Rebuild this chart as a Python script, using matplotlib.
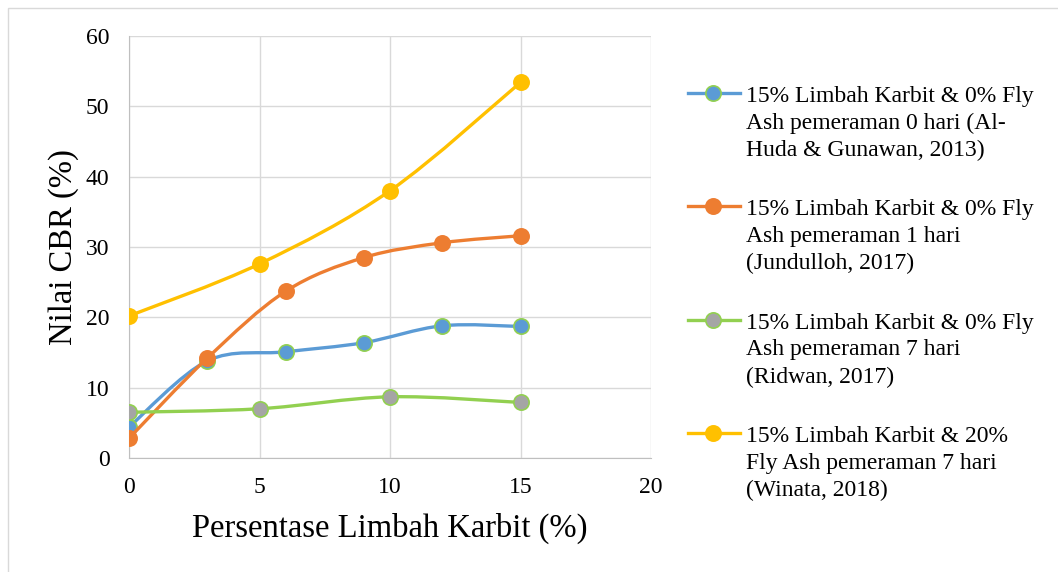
import matplotlib
matplotlib.use("Agg")
import matplotlib.pyplot as plt
from matplotlib.path import Path
from matplotlib.patches import PathPatch, Rectangle
from matplotlib.lines import Line2D
import numpy as np

plt.rcParams['font.family'] = ['Liberation Serif', 'DejaVu Serif']

# data
x_blue = [0, 3, 6, 9, 12, 15]
y_blue = [4.4, 13.8, 15.1, 16.4, 18.8, 18.7]
x_orange = [0, 3, 6, 9, 12, 15]
y_orange = [2.8, 14.2, 23.7, 28.5, 30.6, 31.6]
x_green = [0, 5, 10, 15]
y_green = [6.5, 7.0, 8.7, 7.9]
x_yellow = [0, 5, 10, 15]
y_yellow = [20.2, 27.6, 38.0, 53.4]

labels = [
    "15% Limbah Karbit & 0% Fly\nAsh pemeraman 0 hari (Al-\nHuda & Gunawan, 2013)",
    "15% Limbah Karbit & 0% Fly\nAsh pemeraman 1 hari\n(Jundulloh, 2017)",
    "15% Limbah Karbit & 0% Fly\nAsh pemeraman 7 hari\n(Ridwan, 2017)",
    "15% Limbah Karbit & 20%\nFly Ash pemeraman 7 hari\n(Winata, 2018)",
]

series = [
    (x_blue, y_blue, '#5b9bd5', '#5b9bd5', '#92d050'),
    (x_orange, y_orange, '#ed7d31', '#ed7d31', '#ed7d31'),
    (x_green, y_green, '#92d050', '#a5a5a5', '#92d050'),
    (x_yellow, y_yellow, '#ffc000', '#ffc000', '#ffc000'),
]


def smooth_path(xs, ys):
    # excel style smoothed line: bezier segments through every point
    p = np.column_stack([xs, ys]).astype(float)
    n = len(p)
    verts = [p[0]]
    codes = [Path.MOVETO]
    for i in range(n - 1):
        p0 = p[i - 1] if i > 0 else p[i]
        p3 = p[i + 2] if i + 2 < n else p[i + 1]
        c1 = p[i] + (p[i + 1] - p0) / 6
        c2 = p[i + 1] - (p3 - p[i]) / 6
        verts += [c1, c2, p[i + 1]]
        codes += [Path.CURVE4] * 3
    return Path(verts, codes)


W, H = 1058, 572
fig = plt.figure(figsize=(W / 100, H / 100), dpi=100)
fig.patches.append(Rectangle((8 / W, -0.1), 1.1, 1.1 - 8 / H, transform=fig.transFigure,
                             fill=False, edgecolor='#d9d9d9', linewidth=1))
ax = fig.add_axes([129 / W, 1 - 458 / H, 522 / W, 422 / H])

for k, (xs, ys, lc, mf, me) in enumerate(series):
    ax.add_patch(PathPatch(smooth_path(xs, ys), fill=False, edgecolor=lc,
                           linewidth=2.4, zorder=3 + k, capstyle='round'))
    ax.plot(xs, ys, linestyle='none', marker='o', markersize=11,
            markerfacecolor=mf, markeredgecolor=me, markeredgewidth=1.2, zorder=3 + k)

ax.set_xlim(0, 20)
ax.set_ylim(0, 60)
ax.set_xticks([0, 5, 10, 15, 20])
ax.set_yticks(range(0, 61, 10))
ax.grid(True, color='#d9d9d9', linewidth=1)
ax.set_axisbelow(True)
for s in ['top', 'right']:
    ax.spines[s].set_visible(False)
for s in ['left', 'bottom']:
    ax.spines[s].set_color('#bfbfbf')
ax.tick_params(length=0, labelsize=17)
ax.tick_params(axis='x', pad=14)
ax.tick_params(axis='y', pad=14)
ax.set_xlabel('Persentase Limbah Karbit (%)', fontsize=23.5, labelpad=10)
ax.set_ylabel('Nilai CBR (%)', fontsize=23.5, labelpad=5)

# legend drawn by hand so the handle sits on the first text line
for i, ((xs, ys, lc, mf, me), lab) in enumerate(zip(series, labels)):
    yc = 1 - (93 + 113.3 * i) / H
    fig.add_artist(Line2D([688 / W, 740 / W], [yc, yc], transform=fig.transFigure,
                          color=lc, linewidth=2.4))
    fig.add_artist(Line2D([713 / W], [yc], transform=fig.transFigure, marker='o',
                          markersize=11, markerfacecolor=mf, markeredgecolor=me,
                          markeredgewidth=1.2, linestyle='none'))
    # baseline of the last of the three lines
    fig.text(746 / W, yc - 63 / H, lab, fontsize=17, va='baseline', ha='left',
             linespacing=1.37)

fig.savefig('out.png', dpi=100)
